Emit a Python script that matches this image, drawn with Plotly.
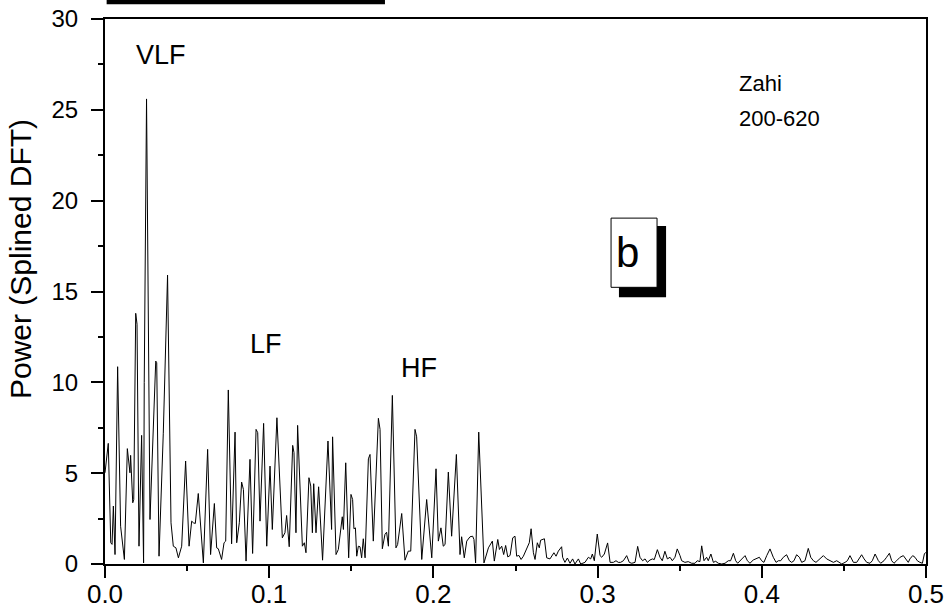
import plotly.graph_objects as go

# (frequency, power) pairs, by band
vlf_band = [
    (0.0000, 5.02), (0.0020, 6.64), (0.0035, 1.17), (0.0043, 1.08), (0.0051, 3.19),
    (0.0061, 0.52), (0.0077, 10.86), (0.0095, 2.08), (0.0118, 0.25), (0.0136, 6.35),
    (0.0152, 5.02), (0.0156, 5.98), (0.0169, 3.37), (0.0175, 3.55), (0.0187, 13.8),
    (0.0195, 13.2), (0.0207, 0.98), (0.0223, 7.08), (0.0235, 0.06), (0.0239, 10.0),
    (0.0253, 25.6), (0.0260, 18.0), (0.0268, 9.5), (0.0274, 2.45), (0.0309, 11.17),
    (0.0315, 11.08), (0.0329, 0.43), (0.0355, 7.2), (0.0381, 15.9),
]

lf_band = [
    (0.0402, 2.27), (0.0416, 0.98), (0.0432, 0.89), (0.0447, 0.34), (0.0467, 0.98),
    (0.0491, 5.67), (0.0512, 0.98), (0.0528, 2.36), (0.0538, 2.27), (0.0550, 2.23),
    (0.0568, 3.88), (0.0599, 0.06), (0.0625, 6.31), (0.0643, 0.52), (0.0666, 3.33),
    (0.0680, 0.89), (0.0690, 0.84), (0.0710, 0.25), (0.0725, 1.17), (0.0735, 1.26),
    (0.0751, 9.58), (0.0771, 1.11), (0.0792, 7.26), (0.0802, 1.17), (0.0818, 2.27),
    (0.0832, 4.51), (0.0843, 4.10), (0.0859, 0.16), (0.0883, 5.76), (0.0899, 0.58),
    (0.0920, 7.41), (0.0930, 7.23), (0.0944, 2.36), (0.0966, 7.74), (0.0985, 0.98),
    (0.1005, 5.39), (0.1019, 1.90), (0.1047, 8.05), (0.1080, 1.44), (0.1096, 1.72),
    (0.1106, 2.67), (0.1122, 0.95), (0.1143, 6.53), (0.1151, 6.13), (0.1163, 1.72),
    (0.1173, 7.63), (0.1202, 0.98), (0.1214, 1.17), (0.1224, 0.62), (0.1242, 4.75),
    (0.1253, 4.29), (0.1263, 1.72), (0.1271, 4.42), (0.1285, 1.72), (0.1301, 4.25),
    (0.1325, 0.21), (0.1358, 6.77), (0.1380, 1.90), (0.1386, 7.00), (0.1407, 0.52),
    (0.1421, 0.80), (0.1445, 2.60), (0.1452, 1.90), (0.1466, 5.57), (0.1484, 0.34),
    (0.1498, 3.83),
]

hf_band = [
    (0.1508, 3.55), (0.1516, 1.94), (0.1525, 1.99), (0.1533, 0.43), (0.1543, 0.98),
    (0.1553, 0.95), (0.1563, 0.34), (0.1573, 1.39), (0.1584, 0.34), (0.1604, 5.79),
    (0.1614, 6.03), (0.1634, 1.26), (0.1665, 8.02), (0.1675, 7.41), (0.1689, 0.84),
    (0.1705, 1.63), (0.1715, 1.75), (0.1726, 0.98), (0.1750, 9.28), (0.1772, 0.89),
    (0.1782, 1.07), (0.1807, 2.78), (0.1827, 0.21), (0.1847, 0.71), (0.1862, 0.71),
    (0.1888, 7.41), (0.1898, 7.00), (0.1929, 0.25), (0.1959, 3.55), (0.1990, 0.34),
    (0.2016, 5.24), (0.2030, 1.26), (0.2046, 1.99), (0.2060, 0.98), (0.2071, 1.07),
    (0.2091, 5.06), (0.2111, 1.53), (0.2140, 6.03), (0.2162, 0.52), (0.2172, 1.50),
    (0.2188, 0.34), (0.2203, 1.26), (0.2223, 1.50), (0.2239, 1.53), (0.2247, 1.35),
    (0.2257, 0.06), (0.2276, 7.26), (0.2308, 0.06), (0.2335, 0.89), (0.2359, 1.26),
    (0.2371, 0.16), (0.2392, 1.35), (0.2402, 0.80), (0.2416, 0.98), (0.2428, 0.52),
    (0.2440, 1.02), (0.2453, 0.39), (0.2467, 0.47), (0.2483, 1.44), (0.2497, 1.53),
    (0.2507, 0.43), (0.2521, 0.47), (0.2534, 0.25), (0.2548, 0.43), (0.2568, 0.80),
    (0.2584, 1.17), (0.2595, 1.94), (0.2609, 0.62), (0.2619, 0.25), (0.2633, 1.17),
    (0.2645, 0.89), (0.2653, 1.31), (0.2676, 1.39), (0.2690, 0.34), (0.2710, 0.28),
    (0.2734, 0.62), (0.2747, 0.43), (0.2761, 0.71), (0.2781, 0.95),
]

high_band = [
    (0.2787, 0.37), (0.2801, 0.09), (0.2816, 0.33), (0.2832, 0.04), (0.2848, 0.28),
    (0.2862, 0.00), (0.2883, 0.28), (0.2897, 0.00), (0.2923, 0.09), (0.2944, 0.37),
    (0.2958, 0.28), (0.2968, 0.55), (0.2980, 0.18), (0.2998, 1.65), (0.3015, 0.46),
    (0.3025, 0.37), (0.3041, 0.55), (0.3061, 1.16), (0.3076, 0.09), (0.3096, 0.09),
    (0.3112, 0.18), (0.3126, 0.09), (0.3140, 0.09), (0.3157, 0.18), (0.3177, 0.46),
    (0.3193, 0.09), (0.3208, 0.04), (0.3228, 0.09), (0.3244, 0.97), (0.3258, 0.37),
    (0.3274, 0.18), (0.3289, 0.28), (0.3303, 0.09), (0.3319, 0.22), (0.3335, 0.28),
    (0.3345, 0.24), (0.3364, 0.79), (0.3380, 0.37), (0.3394, 0.18), (0.3410, 0.70),
    (0.3425, 0.28), (0.3441, 0.37), (0.3455, 0.18), (0.3471, 0.37), (0.3485, 0.83),
    (0.3502, 0.46), (0.3512, 0.18), (0.3532, 0.09), (0.3552, 0.13), (0.3573, 0.04),
    (0.3593, 0.04), (0.3607, 0.18), (0.3623, 0.13), (0.3634, 1.00), (0.3648, 0.18),
    (0.3664, 0.37), (0.3674, 0.18), (0.3690, 0.55), (0.3705, 0.09), (0.3719, 0.15),
    (0.3735, 0.04), (0.3756, 0.00), (0.3776, 0.04), (0.3796, 0.18), (0.3810, 0.18),
    (0.3827, 0.59), (0.3841, 0.18), (0.3853, 0.04), (0.3867, 0.18), (0.3883, 0.28),
    (0.3898, 0.46), (0.3912, 0.18), (0.3928, 0.04), (0.3948, 0.22), (0.3969, 0.33),
    (0.3985, 0.37), (0.3999, 0.18), (0.4013, 0.09), (0.4030, 0.46), (0.4050, 0.83),
    (0.4070, 0.37), (0.4087, 0.09), (0.4101, 0.18), (0.4115, 0.18), (0.4131, 0.37),
    (0.4151, 0.51), (0.4168, 0.18), (0.4182, 0.09), (0.4196, 0.18), (0.4212, 0.51),
    (0.4229, 0.37), (0.4243, 0.09), (0.4263, 0.18), (0.4283, 0.86), (0.4298, 0.37),
    (0.4314, 0.18), (0.4330, 0.09), (0.4344, 0.22), (0.4365, 0.37), (0.4375, 0.46),
    (0.4395, 0.28), (0.4415, 0.18), (0.4436, 0.09), (0.4456, 0.18), (0.4472, 0.09),
    (0.4487, 0.00), (0.4507, 0.09), (0.4521, 0.18), (0.4537, 0.46), (0.4558, 0.09),
    (0.4578, 0.09), (0.4594, 0.28), (0.4608, 0.51), (0.4623, 0.28), (0.4639, 0.09),
    (0.4659, 0.04), (0.4673, 0.18), (0.4690, 0.55), (0.4710, 0.18), (0.4724, 0.04),
    (0.4744, 0.18), (0.4760, 0.37), (0.4777, 0.59), (0.4791, 0.18), (0.4805, 0.04),
    (0.4821, 0.18), (0.4842, 0.37), (0.4862, 0.46), (0.4882, 0.18), (0.4892, 0.09),
    (0.4902, 0.28), (0.4919, 0.46), (0.4933, 0.37), (0.4947, 0.18), (0.4963, 0.09),
    (0.4978, 0.04), (0.4990, 0.55), (0.4998, 0.64),
]

x_tick_vals = [0.0, 0.1, 0.2, 0.3, 0.4, 0.5]
x_tick_text = ["0.0", "0.1", "0.2", "0.3", "0.4", "0.5"]
y_tick_vals = [0, 5, 10, 15, 20, 25, 30]

band_labels = ["VLF", "LF", "HF"]
band_label_x = [0.0338, 0.0980, 0.1912]
band_label_y = [28.0, 12.1, 10.8]

subject_name = "Zahi"
sample_range = "200-620"
panel_letter = "b"

points = vlf_band + lf_band + hf_band + high_band
freq = [p[0] for p in points]
power = [p[1] for p in points]

FONT = "Arial, 'Liberation Sans', sans-serif"

fig = go.Figure()
fig.add_trace(go.Scatter(
    x=freq, y=power, mode="lines",
    line=dict(color="black", width=1),
    showlegend=False, hoverinfo="skip",
))

annotations = []
for t, ax_, ay_ in zip(band_labels, band_label_x, band_label_y):
    annotations.append(dict(x=ax_, y=ay_, xref="x", yref="y", text=t, showarrow=False,
                            font=dict(family=FONT, size=27, color="black"),
                            xanchor="center", yanchor="middle"))
annotations.append(dict(x=0.3849, y=26.45, xref="x", yref="y", text=subject_name, showarrow=False,
                        font=dict(family=FONT, size=22, color="black"), xanchor="left", yanchor="middle"))
annotations.append(dict(x=0.3849, y=24.5, xref="x", yref="y", text=sample_range, showarrow=False,
                        font=dict(family=FONT, size=22, color="black"), xanchor="left", yanchor="middle"))
annotations.append(dict(x=-0.1035, y=0.5596, xref="paper", yref="paper", text="Power (Splined DFT)",
                        textangle=-90, showarrow=False,
                        font=dict(family=FONT, size=30, color="black"),
                        xanchor="center", yanchor="middle"))
annotations.append(dict(x=0.3185, y=17.13, xref="x", yref="y", text=panel_letter, showarrow=False,
                        font=dict(family=FONT, size=42, color="black"),
                        xanchor="center", yanchor="middle"))

shapes = [
    # black bar above the frame
    dict(type="rect", xref="x", yref="paper", x0=0.001, x1=0.1705, y0=1.0272, y1=1.04,
         fillcolor="black", line=dict(width=0)),
    # shadow of panel letter box
    dict(type="rect", xref="x", yref="y", x0=0.3130, x1=0.3417, y0=14.68, y1=18.6,
         fillcolor="black", line=dict(width=0)),
    # panel letter box
    dict(type="rect", xref="x", yref="y", x0=0.3082, x1=0.3362, y0=15.23, y1=19.04,
         fillcolor="white", line=dict(color="black", width=1)),
]

fig.update_layout(
    width=949, height=614,
    margin=dict(l=105, r=23, t=19, b=50, autoexpand=False),
    paper_bgcolor="white", plot_bgcolor="white",
    annotations=annotations,
    shapes=shapes,
    xaxis=dict(range=[0, 0.5], tickvals=x_tick_vals, ticktext=x_tick_text, automargin=False,
               ticks="outside", ticklen=12, tickwidth=2, tickcolor="black",
               showline=True, linewidth=2, linecolor="black", mirror=True,
               showgrid=False, zeroline=False, ticklabelstandoff=-6,
               tickfont=dict(family=FONT, size=26, color="black"),
               minor=dict(dtick=0.05, tick0=0, ticks="outside", ticklen=5, tickwidth=2, tickcolor="black")),
    yaxis=dict(range=[0, 30], tickvals=y_tick_vals, automargin=False,
               ticks="outside", ticklen=12, tickwidth=2, tickcolor="black",
               showline=True, linewidth=2, linecolor="black", mirror=True,
               showgrid=False, zeroline=False, ticklabelstandoff=8,
               tickfont=dict(family=FONT, size=24, color="black"),
               minor=dict(dtick=2.5, tick0=0, ticks="outside", ticklen=5, tickwidth=2, tickcolor="black")),
)

fig.write_html(
    "out.html",
    config={"displayModeBar": False, "staticPlot": True},
    post_script="document.body.style.margin='0';document.body.style.overflow='hidden';",
)
